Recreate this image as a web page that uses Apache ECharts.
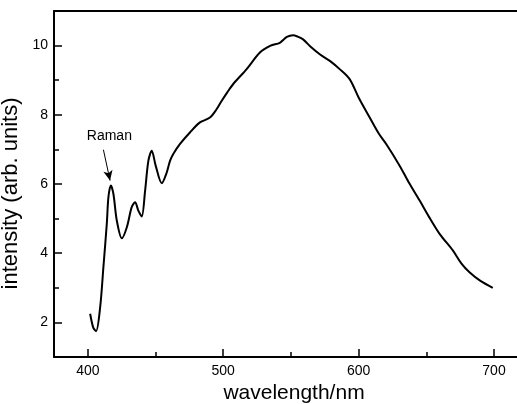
<!DOCTYPE html>
<html>
<head>
<meta charset="utf-8">
<script src="https://cdn.jsdelivr.net/npm/echarts@6/dist/echarts.min.js"></script>
<style>
html,body{margin:0;padding:0;background:#fff;}
#chart{width:517px;height:404px;}
</style>
</head>
<body>
<div id="chart"></div>
<script>
// Data
const wavelength = [401.7,404,406.1,409.1,411.5,414,415.2,417,418.9,421.4,425.1,428.8,432.4,434.9,437.3,439.8,442.3,444.7,447.2,450.1,454.6,458,460.7,463.1,468.1,475.4,482.8,490.2,495.1,498.8,503,507.4,517.3,527.1,535,541.8,547,551.6,555,559,565,571.3,579,586,593.4,600,608.2,615,620.5,630.3,637,645.1,652,659.8,669.6,676,681.9,690,699.1];
const intensity = [2.25,1.85,1.75,2.44,3.6,4.85,5.62,5.96,5.71,4.94,4.43,4.75,5.33,5.47,5.23,5.06,5.81,6.67,6.96,6.53,6.02,6.3,6.67,6.87,7.16,7.49,7.78,7.92,8.16,8.4,8.65,8.89,9.32,9.8,10.0,10.08,10.25,10.3,10.26,10.18,9.95,9.75,9.55,9.32,9.03,8.5,7.92,7.45,7.15,6.53,6.05,5.52,5.05,4.56,4.08,3.7,3.45,3.2,3.0];
const xMajorTicks = [400,500,600,700];
const xMinorTicks = [450,550,650];
const yMajorTicks = [2,4,6,8,10];
const yMinorTicks = [3,5,7,9];
const ramanLabel = 'Raman';
const ramanTextPos = [415.9, 7.37];
const ramanArrowFrom = [411.5, 6.99];
const ramanArrowTo = [416.4, 6.1];

const FONT = 'Liberation Sans, Arial, Helvetica, sans-serif';
const chart = echarts.init(document.getElementById('chart'), null, {renderer:'canvas'});
const xRange = {min:375, max:717};
const yRange = {min:1, max:11};
const noSplit = {show:false};
chart.setOption({
  animation:false,
  backgroundColor:'#fff',
  grid:{left:54, right:0, top:11, bottom:47, containLabel:false, outerBoundsMode:'none'},
  xAxis:[
    {type:'value', position:'bottom', ...xRange, splitLine:noSplit,
     axisLine:{show:true, onZero:false, lineStyle:{color:'#000', width:2}},
     axisTick:{show:true, inside:true, length:8, customValues:xMajorTicks, lineStyle:{color:'#000', width:1.5}},
     axisLabel:{show:true, customValues:xMajorTicks, margin:7, color:'#000', fontSize:14, fontFamily:FONT},
     name:'wavelength/nm', nameLocation:'middle', nameGap:24,
     nameTextStyle:{color:'#000', fontSize:21, fontFamily:FONT, padding:[0,0,0,17]}},
    {type:'value', position:'bottom', ...xRange, splitLine:noSplit,
     axisLine:{show:false},
     axisTick:{show:true, inside:true, length:5, customValues:xMinorTicks, lineStyle:{color:'#000', width:1.5}},
     axisLabel:{show:false}},
    {type:'value', position:'top', ...xRange, splitLine:noSplit,
     axisLine:{show:true, onZero:false, lineStyle:{color:'#000', width:2}},
     axisTick:{show:false}, axisLabel:{show:false}}
  ],
  yAxis:[
    {type:'value', position:'left', ...yRange, splitLine:noSplit,
     axisLine:{show:true, onZero:false, lineStyle:{color:'#000', width:2}},
     axisTick:{show:true, inside:true, length:8, customValues:yMajorTicks, lineStyle:{color:'#000', width:1.5}},
     axisLabel:{show:true, customValues:yMajorTicks, margin:6, color:'#000', fontSize:14, fontFamily:FONT},
     name:'intensity (arb. units)', nameLocation:'middle', nameGap:21, nameRotate:90,
     nameTextStyle:{color:'#000', fontSize:22, fontFamily:FONT, padding:[0,19,0,0]}},
    {type:'value', position:'left', ...yRange, splitLine:noSplit,
     axisLine:{show:false},
     axisTick:{show:true, inside:true, length:5, customValues:yMinorTicks, lineStyle:{color:'#000', width:1.5}},
     axisLabel:{show:false}}
  ],
  series:[
    {type:'line', xAxisIndex:0, yAxisIndex:0,
     data:wavelength.map((w,i)=>[w,intensity[i]]),
     smooth:0.3, showSymbol:false, symbol:'none',
     lineStyle:{color:'#000', width:2},
     markLine:{silent:true, symbol:['none','arrow'], symbolSize:[7,10],
       label:{show:false},
       lineStyle:{color:'#000', width:1, type:'solid'},
       data:[[{coord:ramanArrowFrom},{coord:ramanArrowTo}]]},
     markPoint:{silent:true, symbol:'circle', symbolSize:1,
       itemStyle:{color:'rgba(0,0,0,0)'},
       label:{show:true, formatter:ramanLabel, color:'#000', fontSize:14, fontFamily:FONT, position:'inside'},
       data:[{coord:ramanTextPos}]}
    }
  ]
});
</script>
</body>
</html>
